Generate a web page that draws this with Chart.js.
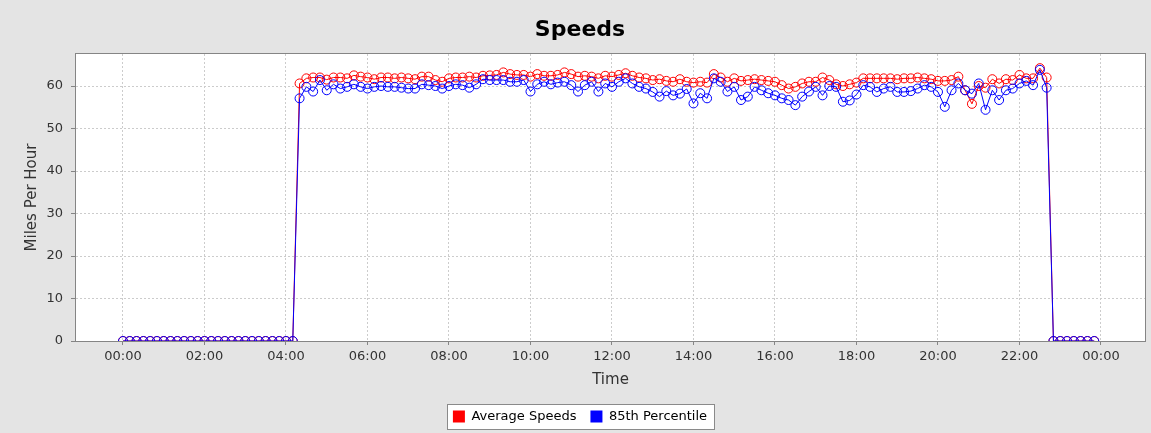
<!DOCTYPE html>
<html>
<head>
<meta charset="utf-8">
<title>Speeds</title>
<script src="https://cdn.jsdelivr.net/npm/chart.js@4.4.1/dist/chart.umd.min.js"></script>
<style>
  html, body { margin: 0; padding: 0; background: #e4e4e4; }
  #speedChart { display: block; }
</style>
</head>
<body>
<canvas id="speedChart" width="1151" height="433"></canvas>
<script>
// one reading every 10 minutes, 00:00 - 23:50
const times = [
  '00:00','00:10','00:20','00:30','00:40','00:50',
  '01:00','01:10','01:20','01:30','01:40','01:50',
  '02:00','02:10','02:20','02:30','02:40','02:50',
  '03:00','03:10','03:20','03:30','03:40','03:50',
  '04:00','04:10','04:20','04:30','04:40','04:50',
  '05:00','05:10','05:20','05:30','05:40','05:50',
  '06:00','06:10','06:20','06:30','06:40','06:50',
  '07:00','07:10','07:20','07:30','07:40','07:50',
  '08:00','08:10','08:20','08:30','08:40','08:50',
  '09:00','09:10','09:20','09:30','09:40','09:50',
  '10:00','10:10','10:20','10:30','10:40','10:50',
  '11:00','11:10','11:20','11:30','11:40','11:50',
  '12:00','12:10','12:20','12:30','12:40','12:50',
  '13:00','13:10','13:20','13:30','13:40','13:50',
  '14:00','14:10','14:20','14:30','14:40','14:50',
  '15:00','15:10','15:20','15:30','15:40','15:50',
  '16:00','16:10','16:20','16:30','16:40','16:50',
  '17:00','17:10','17:20','17:30','17:40','17:50',
  '18:00','18:10','18:20','18:30','18:40','18:50',
  '19:00','19:10','19:20','19:30','19:40','19:50',
  '20:00','20:10','20:20','20:30','20:40','20:50',
  '21:00','21:10','21:20','21:30','21:40','21:50',
  '22:00','22:10','22:20','22:30','22:40','22:50',
  '23:00','23:10','23:20','23:30','23:40','23:50'
];

const avgSpeeds = [
  0, 0, 0, 0, 0, 0,
  0, 0, 0, 0, 0, 0,
  0, 0, 0, 0, 0, 0,
  0, 0, 0, 0, 0, 0,
  0, 0, 60.6, 61.8, 62.0, 62.0,
  61.5, 62.0, 62.0, 61.8, 62.5, 62.2,
  62.0, 61.6, 62.0, 62.0, 61.8, 62.0,
  61.8, 61.6, 62.2, 62.2, 61.4, 61.0,
  61.8, 62.0, 62.0, 62.2, 62.0, 62.4,
  62.5, 62.6, 63.2, 62.8, 62.6, 62.6,
  62.2, 62.8, 62.4, 62.4, 62.6, 63.2,
  62.8, 62.2, 62.4, 62.2, 61.8, 62.4,
  62.2, 62.6, 63.0, 62.4, 62.0, 61.8,
  61.4, 61.6, 61.2, 61.0, 61.6, 61.0,
  60.8, 61.0, 60.8, 62.8, 62.0, 61.0,
  61.8, 61.2, 61.4, 61.6, 61.4, 61.2,
  61.0, 60.2, 59.4, 59.8, 60.6, 61.0,
  61.0, 62.0, 61.4, 60.4, 60.0, 60.4,
  60.8, 61.8, 61.8, 61.8, 61.8, 61.8,
  61.6, 61.8, 61.8, 62.0, 61.8, 61.6,
  61.2, 61.2, 61.4, 62.2, 59.0, 55.8,
  60.0, 59.6, 61.6, 60.6, 61.6, 61.4,
  62.6, 61.8, 61.8, 64.2, 62.0, 0,
  0, 0, 0, 0, 0, 0
];

const pct85Speeds = [
  0, 0, 0, 0, 0, 0,
  0, 0, 0, 0, 0, 0,
  0, 0, 0, 0, 0, 0,
  0, 0, 0, 0, 0, 0,
  0, 0, 57.1, 59.8, 58.7, 61.4,
  59.0, 60.4, 59.4, 59.8, 60.4, 59.8,
  59.4, 59.8, 60.0, 59.8, 59.8, 59.6,
  59.4, 59.4, 60.4, 60.2, 60.0, 59.4,
  60.0, 60.4, 60.2, 59.6, 60.4, 61.6,
  61.4, 61.4, 61.4, 61.0, 61.0, 61.4,
  58.7, 60.4, 61.0, 60.4, 60.8, 61.0,
  60.2, 58.7, 60.2, 61.0, 58.7, 60.6,
  59.8, 61.0, 61.8, 60.6, 59.8, 59.4,
  58.6, 57.5, 58.8, 57.8, 58.2, 59.3,
  55.9, 58.3, 57.1, 61.8, 61.0, 58.7,
  59.8, 56.7, 57.5, 59.8, 59.0, 58.3,
  57.8, 57.1, 56.7, 55.5, 57.5, 58.7,
  59.8, 57.8, 60.0, 59.8, 56.3, 56.6,
  58.0, 60.2, 59.8, 58.6, 59.4, 59.8,
  58.6, 58.6, 58.8, 59.4, 60.2, 59.8,
  58.6, 55.1, 59.0, 60.6, 59.0, 58.2,
  60.6, 54.4, 59.0, 56.7, 59.0, 59.4,
  60.6, 61.2, 60.2, 63.8, 59.6, 0,
  0, 0, 0, 0, 0, 0
];

// x ticks every two hours, last one is midnight again
const hourTickLabels = ['00:00','02:00','04:00','06:00','08:00','10:00','12:00',
                        '14:00','16:00','18:00','20:00','22:00','00:00'];

function toHours(t) {
    const parts = t.split(':').map(Number);
    return parts[0] + parts[1] / 60;
}

function toPoints(values) {
    return times.map((t, i) => ({ x: toHours(t), y: values[i] }));
}

function legendRect(chart) {
    const boxes = chart.legend.legendHitBoxes;
    if (!boxes || !boxes.length) return null;
    const left = Math.min(...boxes.map(b => b.left)) - 6;
    const right = Math.max(...boxes.map(b => b.left + b.width)) + 7;
    const top = Math.min(...boxes.map(b => b.top)) - 6;
    const bottom = Math.max(...boxes.map(b => b.top + b.height)) + 6;
    return { x: Math.round(left) + 0.5, y: Math.round(top) + 0.5,
             w: Math.round(right - left), h: Math.round(bottom - top) };
}

const chartFrame = {
    id: 'chartFrame',
    beforeDraw(chart) {
        const ctx = chart.ctx;
        const a = chart.chartArea;
        ctx.save();
        ctx.fillStyle = '#e4e4e4';
        ctx.fillRect(0, 0, chart.width, chart.height);
        ctx.fillStyle = '#ffffff';
        ctx.fillRect(a.left, a.top, a.right - a.left, a.bottom - a.top);
        const r = legendRect(chart);
        if (r) ctx.fillRect(r.x, r.y, r.w, r.h);
        ctx.restore();
    },
    afterDraw(chart) {
        const ctx = chart.ctx;
        const a = chart.chartArea;
        ctx.save();
        ctx.strokeStyle = '#858585';
        ctx.lineWidth = 1;
        ctx.strokeRect(Math.round(a.left) - 0.5, Math.round(a.top) - 0.5,
                       Math.round(a.right - a.left) + 1, Math.round(a.bottom - a.top) + 1);
        const r = legendRect(chart);
        if (r) {
            ctx.strokeStyle = '#8a8a8a';
            ctx.strokeRect(r.x, r.y, r.w, r.h);
        }
        ctx.restore();
    }
};

Chart.defaults.font.family = "'DejaVu Sans', sans-serif";

const ctx = document.getElementById('speedChart').getContext('2d');
new Chart(ctx, {
    type: 'line',
    data: {
        datasets: [
            {
                label: 'Average Speeds',
                data: toPoints(avgSpeeds),
                borderColor: '#ff0000',
                backgroundColor: '#ff0000',
                borderWidth: 1,
                pointRadius: 4.5,
                pointBorderWidth: 1,
                pointBorderColor: '#ff0000',
                pointBackgroundColor: 'rgba(0,0,0,0)',
                tension: 0,
                clip: 0,
                order: 2
            },
            {
                label: '85th Percentile',
                data: toPoints(pct85Speeds),
                borderColor: '#0000ff',
                backgroundColor: '#0000ff',
                borderWidth: 1,
                pointRadius: 4.5,
                pointBorderWidth: 1,
                pointBorderColor: '#0000ff',
                pointBackgroundColor: 'rgba(0,0,0,0)',
                tension: 0,
                clip: 0,
                order: 1
            }
        ]
    },
    options: {
        responsive: false,
        animation: false,
        devicePixelRatio: 1,
        events: [],
        layout: {
            padding: { left: 15, right: 6, top: 0, bottom: 0 }
        },
        plugins: {
            title: {
                display: true,
                text: 'Speeds',
                color: '#000000',
                font: { size: 22, weight: 'bold' },
                padding: { top: 17, bottom: 10.6 }
            },
            legend: {
                position: 'bottom',
                labels: {
                    boxWidth: 12,
                    boxHeight: 12,
                    padding: 14,
                    color: '#000000',
                    font: { size: 13 },
                    generateLabels(chart) {
                        return chart.data.datasets.map((ds, i) => ({
                            text: ds.label,
                            fillStyle: ds.borderColor,
                            strokeStyle: ds.borderColor,
                            lineWidth: 0,
                            datasetIndex: i,
                            fontColor: '#000000'
                        }));
                    }
                }
            },
            tooltip: { enabled: false }
        },
        scales: {
            x: {
                type: 'linear',
                min: -1.153,
                max: 25.08,
                afterFit(scale) { scale.height = 55; },
                ticks: {
                    stepSize: 2,
                    includeBounds: false,
                    autoSkip: false,
                    maxRotation: 0,
                    padding: 4,
                    color: '#333333',
                    font: { size: 13 },
                    callback: (value) => hourTickLabels[Math.round(value / 2)]
                },
                grid: {
                    color: '#cccccc',
                    lineWidth: 1,
                    tickLength: 4,
                    tickColor: '#858585'
                },
                border: { display: false, dash: [2, 2] },
                title: {
                    display: true,
                    text: 'Time',
                    color: '#333333',
                    font: { size: 15 },
                    padding: { top: 0, bottom: 7 }
                }
            },
            y: {
                min: 0,
                max: 67.53,
                afterFit(scale) { scale.width = 61; },
                ticks: {
                    stepSize: 10,
                    includeBounds: false,
                    padding: 8,
                    color: '#333333',
                    font: { size: 13 }
                },
                grid: {
                    color: '#cccccc',
                    lineWidth: 1,
                    tickLength: 5,
                    tickColor: '#858585'
                },
                border: { display: false, dash: [2, 2] },
                title: {
                    display: true,
                    text: 'Miles Per Hour',
                    color: '#333333',
                    font: { size: 15 },
                    padding: { top: 8, bottom: 0 }
                }
            }
        }
    },
    plugins: [chartFrame]
});
</script>
</body>
</html>
